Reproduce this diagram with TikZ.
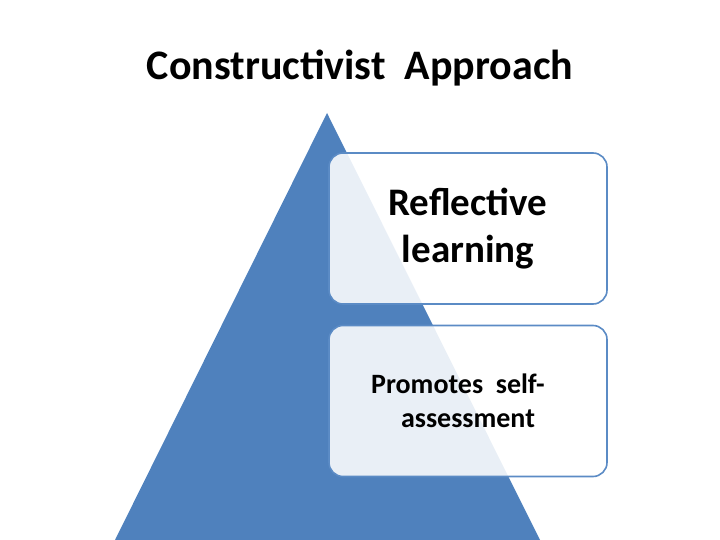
\documentclass[tikz,border=0pt]{standalone}
\usepackage{fontspec}
\setmainfont{Carlito}
\definecolor{tri}{HTML}{4F81BD}
\definecolor{bord}{HTML}{5B8BC5}
\begin{document}
\begin{tikzpicture}[x=1pt,y=-1pt,
  box/.style={draw=bord,line width=1.6pt,rounded corners=14pt,fill=white,fill opacity=0.88,minimum width=278pt,minimum height=151pt},
  lbl/.style={align=center,font=\bfseries\fontsize{#1}{1.2\dimexpr#1pt\relax}\selectfont}]
\useasboundingbox (0,0) rectangle (720,540);
\node[lbl=42] (title) at (360,68) {Constructivist\ \ Approach};
\fill[tri] (327,113) -- (540,540) -- (115,540) -- cycle;
\node[box] (b1) at (468,228.5) {};
\node[box] (b2) at (468,401) {};
\node[lbl=39] (t1) at (b1) {Reflective\\learning};
\node[lbl=28] (t2) at ([xshift=-10pt]b2) {Promotes\ \ self-\\\hspace*{20pt}assessment};
\end{tikzpicture}
\end{document}
